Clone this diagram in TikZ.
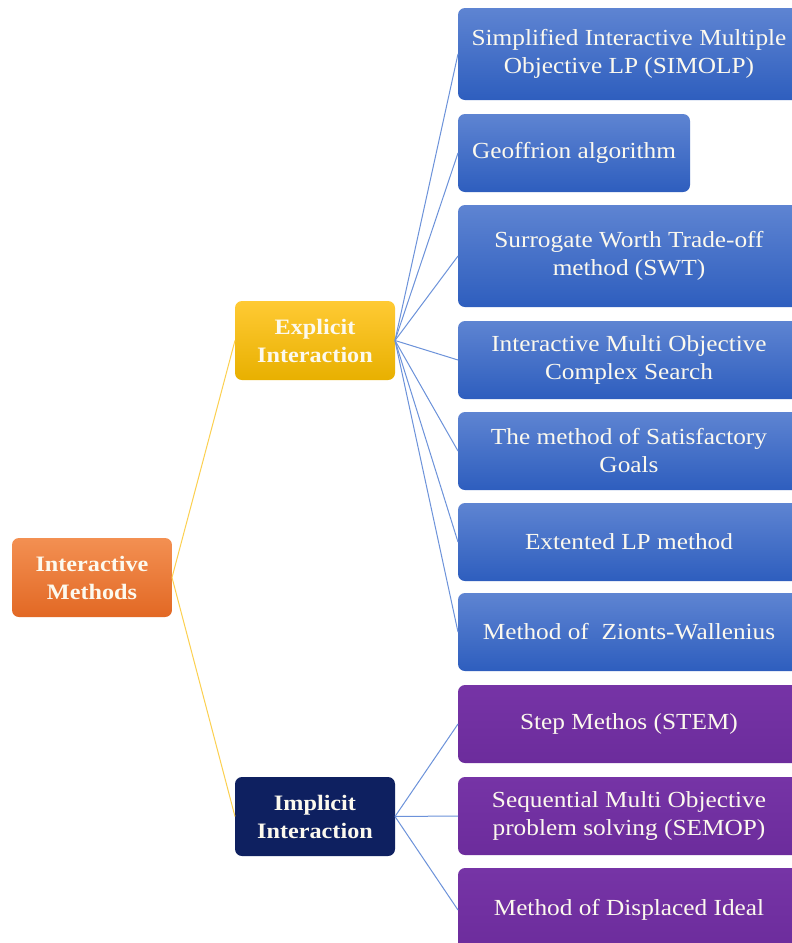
\documentclass[tikz,border=0pt]{standalone}
\usepackage{fontspec}
\setmainfont[FakeStretch=1.1]{Liberation Serif}
\definecolor{boxtext}{RGB}{252,249,238}
\definecolor{blueTop}{RGB}{94,132,210}
\definecolor{blueBot}{RGB}{46,94,190}
\definecolor{purpleTop}{RGB}{118,52,166}
\definecolor{purpleBot}{RGB}{108,44,156}
\definecolor{orangeTop}{RGB}{243,144,82}
\definecolor{orangeBot}{RGB}{226,104,36}
\definecolor{goldTop}{RGB}{255,202,52}
\definecolor{goldBot}{RGB}{232,176,0}
\definecolor{navy}{RGB}{14,32,96}
\definecolor{blueLine}{RGB}{108,146,218}
\definecolor{goldLine}{RGB}{252,208,80}
\begin{document}
\begin{tikzpicture}[x=1pt,y=-1pt,
  box/.style={rounded corners=7pt, inner sep=0pt, outer sep=0pt,
    anchor=north west, align=center, text=boxtext,
    font=\fontsize{23}{28}\selectfont},
  headbox/.style={box, font=\fontsize{22}{28}\selectfont\bfseries,
    minimum width=160pt, minimum height=79pt},
  bluebox/.style={box, top color=blueTop, bottom color=blueBot},
  purplebox/.style={box, top color=purpleTop, bottom color=purpleBot},
  blueline/.style={draw=blueLine, line width=1pt},
  goldline/.style={draw=goldLine, line width=1pt}
]
\clip (0,0) rectangle (792,943);
\fill[white] (0,0) rectangle (792,943);

% root and the two branches
\node[headbox, top color=orangeTop, bottom color=orangeBot] (root) at (12,538) {Interactive\\Methods};
\node[headbox, top color=goldTop, bottom color=goldBot] (expl) at (235,301) {Explicit\\Interaction};
\node[headbox, fill=navy] (impl) at (235,777) {Implicit\\Interaction};

% explicit interaction methods
\node[bluebox, minimum width=342pt, minimum height=92pt] (e1) at (458,8) {Simplified Interactive Multiple\\Objective LP (SIMOLP)};
\node[bluebox, minimum width=232pt, minimum height=78pt] (e2) at (458,114) {Geoffrion algorithm};
\node[bluebox, minimum width=342pt, minimum height=102pt] (e3) at (458,205) {Surrogate Worth Trade-off\\method (SWT)};
\node[bluebox, minimum width=342pt, minimum height=78pt] (e4) at (458,321) {Interactive Multi Objective\\Complex Search};
\node[bluebox, minimum width=342pt, minimum height=78pt] (e5) at (458,412) {The method of Satisfactory\\Goals};
\node[bluebox, minimum width=342pt, minimum height=78pt] (e6) at (458,503) {Extented LP method};
\node[bluebox, minimum width=342pt, minimum height=78pt] (e7) at (458,593) {Method of \ Zionts-Wallenius};

% implicit interaction methods
\node[purplebox, minimum width=342pt, minimum height=78pt] (i1) at (458,685) {Step Methos (STEM)};
\node[purplebox, minimum width=342pt, minimum height=78pt] (i2) at (458,777) {Sequential Multi Objective\\problem solving (SEMOP)};
\node[purplebox, minimum width=342pt, minimum height=84pt] (i3) at (458,868) {Method of Displaced Ideal};

% connectors
\draw[goldline] (root.east) -- (expl.west);
\draw[goldline] (root.east) -- (impl.west);
\foreach \n in {e1,e2,e3,e4,e5,e6,e7}
  \draw[blueline] (expl.east) -- (\n.west);
\foreach \n in {i1,i2,i3}
  \draw[blueline] (impl.east) -- (\n.west);
\end{tikzpicture}
\end{document}
